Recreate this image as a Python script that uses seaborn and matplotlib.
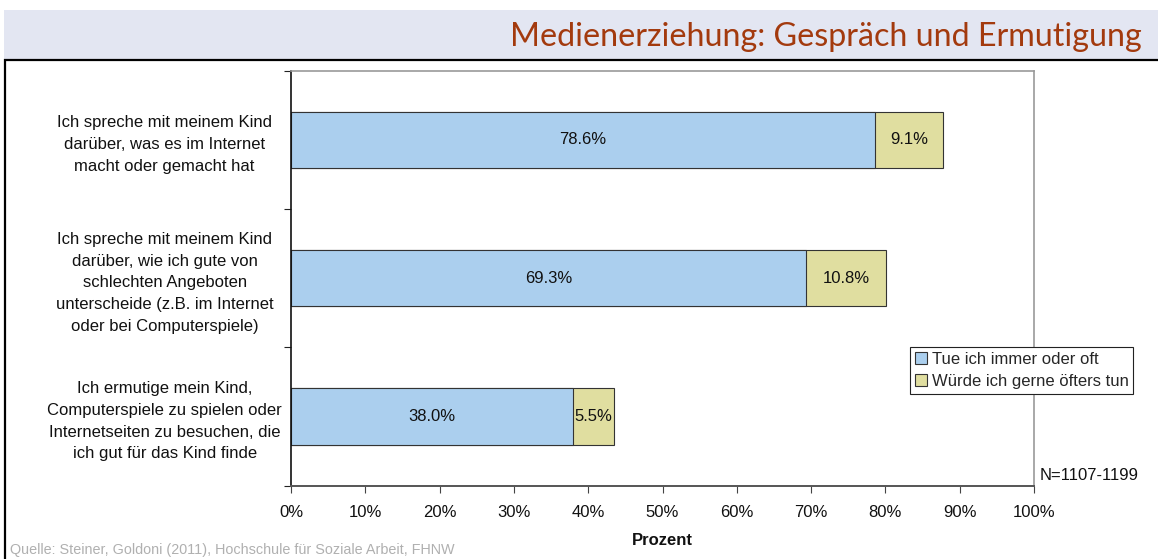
import numpy as np
import pandas as pd
import matplotlib.pyplot as plt
import seaborn as sns
from matplotlib.patches import Rectangle, Patch

# data
categories = [
    "Ich spreche mit meinem Kind\ndarüber, was es im Internet\nmacht oder gemacht hat",
    "Ich spreche mit meinem Kind\ndarüber, wie ich gute von\nschlechten Angeboten\nunterscheide (z.B. im Internet\noder bei Computerspiele)",
    "Ich ermutige mein Kind,\nComputerspiele zu spielen oder\nInternetseiten zu besuchen, die\nich gut für das Kind finde",
]
tue_oft = [78.6, 69.3, 38.0]
wuerde_gerne = [9.1, 10.8, 5.5]
series_names = ["Tue ich immer oder oft", "Würde ich gerne öfters tun"]
x_ticks = list(range(0, 101, 10))

title = "Medienerziehung: Gespräch und Ermutigung"
source = "Quelle: Steiner, Goldoni (2011), Hochschule für Soziale Arbeit, FHNW"
n_note = "N=1107-1199"

BLUE = "#abcfee"
YELLOW = "#e0dea0"
FS = 12

sns.set_theme(style="white")
plt.rcParams["font.family"] = ["Liberation Sans", "DejaVu Sans"]

W, H = 1158, 559
fig = plt.figure(figsize=(W / 100, H / 100), dpi=100)


def fx(x):
    return x / W


def fy(y):
    return 1 - y / H


# header band and outer frame
fig.patches.append(Rectangle((fx(4), fy(60)), 1, fy(10) - fy(60), transform=fig.transFigure,
                             facecolor="#e3e6f2", edgecolor="none", zorder=0))
fig.patches.append(Rectangle((fx(5), -0.05), 1, fy(60) + 0.05, transform=fig.transFigure,
                             facecolor="none", edgecolor="black", linewidth=1.6, zorder=1))
fig.text(fx(1142), fy(37), title, ha="right", va="center", fontsize=23.2,
         color="#a33a0e", family=["Lato", "DejaVu Sans"])

ax = fig.add_axes([fx(291), fy(485.7), fx(1034) - fx(291), fy(70.5) - fy(485.7)])

df = pd.DataFrame({
    "cat": categories,
    "tue": tue_oft,
    "total": [a + b for a, b in zip(tue_oft, wuerde_gerne)],
})

# stacked bars: full total in yellow, blue share drawn on top
sns.barplot(data=df, x="total", y="cat", color=YELLOW, saturation=1, width=0.405,
            edgecolor="#333333", linewidth=0.8, ax=ax)
sns.barplot(data=df, x="tue", y="cat", color=BLUE, saturation=1, width=0.405,
            edgecolor="#333333", linewidth=0.8, ax=ax)

for i, (a, b) in enumerate(zip(tue_oft, wuerde_gerne)):
    ax.text(a / 2, i, f"{a:.1f}%", ha="center", va="center", fontsize=FS, color="#111111")
    ax.text(a + b / 2, i, f"{b:.1f}%", ha="center", va="center", fontsize=FS, color="#111111")

ax.set_xlim(0, 100)
ax.set_ylim(2.5, -0.5)
ax.set_xticks(x_ticks)
ax.set_xticklabels([f"{t}%" for t in x_ticks], fontsize=FS)
ax.set_yticks(range(len(categories)))
ax.set_yticklabels(categories, fontsize=FS, linespacing=1.55)
for lab in ax.get_yticklabels():
    lab.set_horizontalalignment("center")
    lab.set_multialignment("center")
ax.set_yticks([-0.5, 0.5, 1.5, 2.5], minor=True)
ax.tick_params(axis="y", which="major", length=0, pad=91, colors="#111111")
ax.tick_params(axis="y", which="minor", length=5, width=0.8, color="#222222", direction="out", left=True)
ax.tick_params(axis="x", length=5, width=0.8, color="#444444", direction="out", bottom=True, pad=9,
               labelcolor="#111111")
ax.set_xlabel("Prozent", fontsize=FS, fontweight="bold", labelpad=9, color="#111111")
ax.set_ylabel("")

for side in ["top", "right"]:
    ax.spines[side].set_color("#999999")
    ax.spines[side].set_linewidth(1.2)
ax.spines["left"].set_color("#111111")
ax.spines["left"].set_linewidth(1.2)
ax.spines["bottom"].set_color("#555555")
ax.spines["bottom"].set_linewidth(1.4)

handles = [Patch(facecolor=BLUE, edgecolor="#333333", linewidth=0.8),
           Patch(facecolor=YELLOW, edgecolor="#333333", linewidth=0.8)]
leg = ax.legend(handles, series_names, loc="upper left", bbox_to_anchor=(0.833, 0.334),
                fontsize=FS, frameon=True, fancybox=False, framealpha=1,
                handlelength=0.7, handleheight=0.7, handletextpad=0.3,
                labelspacing=0.4, borderpad=0.3, borderaxespad=0)
leg.get_frame().set_edgecolor("#222222")
leg.get_frame().set_linewidth(0.8)

fig.text(fx(1040), fy(476), n_note, ha="left", va="center", fontsize=FS, color="#111111")
fig.text(fx(10), fy(543), source, ha="left", va="top", fontsize=10.4, color="#b0b0b0")

fig.savefig("out.png", dpi=100)
